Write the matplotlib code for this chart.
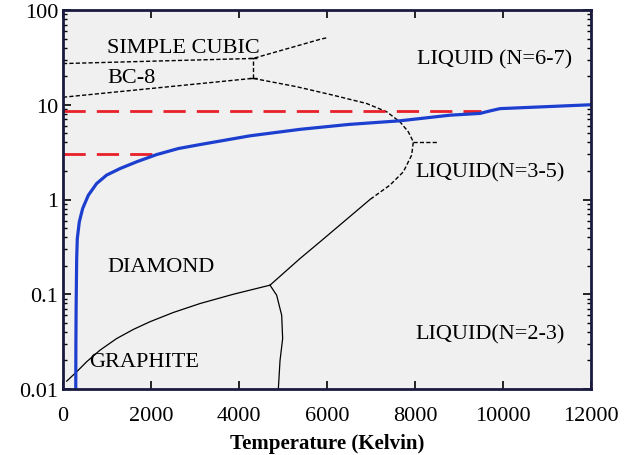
import matplotlib
matplotlib.use("Agg")
import matplotlib.pyplot as plt
from matplotlib.ticker import LogLocator, NullFormatter

plt.rcParams['font.family'] = ['Liberation Serif', 'DejaVu Serif']

# blue curve (temperature K, pressure)
blue_t = [290, 293, 298, 305, 311, 325, 371, 447, 576, 765, 992, 1295, 1674,
          2129, 2621, 3114, 4250, 5386, 6500, 7659, 8795, 9477, 9700, 9932, 12000]
blue_p = [0.01, 0.03, 0.07, 0.14, 0.238, 0.387, 0.582, 0.804, 1.11, 1.475, 1.81,
          2.12, 2.5, 2.98, 3.45, 3.8, 4.7, 5.5, 6.2, 6.77, 7.76, 8.1, 8.6, 9.1, 10.0]

# red dashed reference lines
red_hi_t = [0, 9500]
red_hi_p = [8.55, 8.55]
red_lo_t = [0, 2166]
red_lo_p = [3.0, 3.0]

# solid phase boundaries
gd_t = [84, 311, 538, 841, 1220, 1598, 1977, 2507, 3114, 3871, 4705]
gd_p = [0.0121, 0.0152, 0.0194, 0.0257, 0.0341, 0.0425, 0.0513, 0.0642, 0.0798,
        0.1, 0.1247]
dl_t = [4705, 5386, 5840, 6977]
dl_p = [0.1247, 0.238, 0.357, 1.0]
gl_t = [4705, 4856, 4970, 4992, 4932, 4894]
gl_p = [0.1247, 0.0977, 0.060, 0.0341, 0.0199, 0.01]

# dashed phase boundaries
sc_t = [0, 4318, 5840, 6000]
sc_p = [27.2, 30.8, 49, 51]
bc_t = [0, 4318, 5311, 6144, 6902, 7356, 7659, 7848, 7962, 7924, 7735, 7432, 6977]
bc_p = [12.0, 19.0, 15.5, 12.6, 10.3, 8.43, 6.6, 5.18, 4.06, 2.94, 1.96, 1.42, 1.0]
tp_t = [4318, 4318]
tp_p = [19.0, 30.8]
nose_t = [7962, 8493]
nose_p = [4.06, 4.06]

labels = ['SIMPLE CUBIC', 'BC-8', 'DIAMOND', 'GRAPHITE',
          'LIQUID (N=6-7)', 'LIQUID(N=3-5)', 'LIQUID(N=2-3)']
label_t = [1000, 1000, 1000, 590, 8045, 8000, 8000]
label_p = [40, 19.4, 0.196, 0.0195, 30.8, 1.97, 0.0385]

fig = plt.figure(figsize=(6.35, 4.56), dpi=100)
ax = fig.add_axes([63 / 635, 1 - 390 / 456, 528 / 635, 379 / 456])
ax.set_facecolor('#f0f0f0')
ax.set_yscale('log')
ax.set_xlim(0, 12000)
ax.set_ylim(0.01, 100)

for t, p in [(gd_t, gd_p), (dl_t, dl_p), (gl_t, gl_p)]:
    ax.plot(t, p, color='black', lw=0.9)
for t, p in [(sc_t, sc_p), (bc_t, bc_p), (nose_t, nose_p)]:
    ax.plot(t, p, color='black', lw=1.0, dashes=(3, 1.6))
ax.plot(tp_t, tp_p, color='black', lw=1.0, dashes=(3, 1.6),
        marker='_', markersize=6, markeredgewidth=1.0)
ax.plot(red_hi_t, red_hi_p, color='#e8202a', lw=2, dashes=(8, 4))
ax.plot(red_lo_t, red_lo_p, color='#e8202a', lw=2, dashes=(8, 4))
ax.plot(blue_t, blue_p, color='#1c3fcf', lw=2.3)

for s, t, p in zip(labels, label_t, label_p):
    ax.text(t, p, s, fontsize=16, va='center', ha='left')

ax.set_xticks(range(0, 12001, 2000))
ax.set_yticks([0.01, 0.1, 1, 10, 100])
ax.set_yticklabels(['0.01', '0.1', '1', '10', '100'])
ax.yaxis.set_minor_locator(LogLocator(base=10, subs=range(2, 10)))
ax.yaxis.set_minor_formatter(NullFormatter())
ax.tick_params(which='both', direction='in', top=True, right=True,
               labelsize=16, color='black')
ax.tick_params(which='major', length=6, width=1.2)
ax.tick_params(which='minor', length=3, width=1.0)
ax.tick_params(axis='x', which='major', pad=12)
for sp in ax.spines.values():
    sp.set_color('#1a1a40')
    sp.set_linewidth(2)

ax.set_xlabel('Temperature (Kelvin)', fontsize=15, fontweight='bold', labelpad=6)

fig.savefig('out.png', dpi=100)
